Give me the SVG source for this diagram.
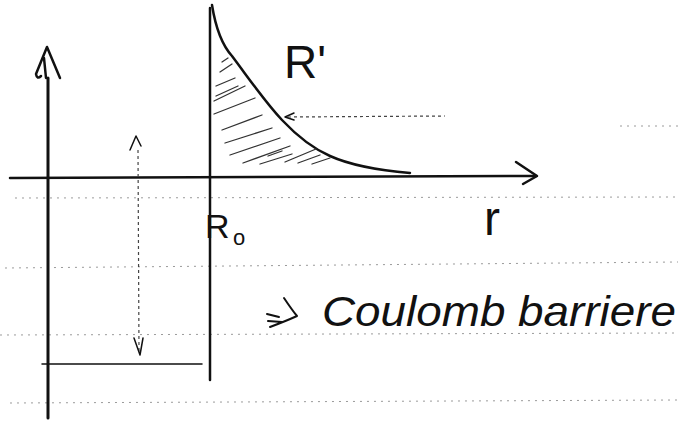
<svg xmlns="http://www.w3.org/2000/svg" width="678" height="424" viewBox="0 0 678 424">
<style>
.ink{fill:none;stroke:#111;stroke-linecap:round;stroke-linejoin:round}
.rule{fill:none;stroke:#9a9a9a;stroke-width:1;stroke-dasharray:2 5}
.dot{fill:none;stroke:#444;stroke-width:1.2;stroke-dasharray:3 3}
.hatch{fill:none;stroke:#333;stroke-width:1.3;stroke-linecap:round}
.hand{font-family:"Liberation Sans",sans-serif;fill:#111}
</style>
<rect width="678" height="424" fill="#fff"/>
<g id="rules">
<line class="rule" x1="620" y1="126" x2="678" y2="126"/>
<line class="rule" x1="15" y1="198" x2="678" y2="197"/>
<line class="rule" x1="5" y1="268" x2="678" y2="262"/>
<line class="rule" x1="0" y1="335" x2="678" y2="333"/>
<line class="rule" x1="10" y1="403" x2="678" y2="400"/>
</g>
<g id="axes">
<line class="ink" x1="48" y1="78" x2="48" y2="418" stroke-width="3"/>
<path class="ink" stroke-width="2.5" d="M46,78 L44,58 M36,74 L47,47 L60,78 M36,74 Q37,80 41,76"/>
<line class="ink" x1="10" y1="178" x2="536" y2="176" stroke-width="2.5"/>
<path class="ink" stroke-width="2.5" d="M516,162 L537,176 L523,184"/>
<line class="ink" x1="210" y1="8" x2="210" y2="380" stroke-width="2.5"/>
<line class="ink" x1="42" y1="364" x2="202" y2="364" stroke-width="1.5"/>
</g>
<g id="barrier">
<path class="ink" stroke-width="2.5" d="M212,5 C216,30 222,45 232,56 C250,80 265,102 282,120 C298,137 312,148 330,156 C350,165 375,170 410,173"/>
<path class="hatch" d="M220,72 L232,64 M216,86 L235,78 M214,101 L245,86 M214,114 L255,98 M222,130 L262,115 M225,143 L272,128 M230,155 L280,138 M243,163 L290,146 M260,164 L292,154 M285,162 L316,149 M298,163 L320,155 M312,164 L330,158"/>
<path class="hatch" d="M222,62 L228,58 M216,96 L238,86 M268,156 L282,151"/>
</g>
<g id="connectors">
<line class="dot" x1="288" y1="117" x2="445" y2="116" stroke-dasharray="6 8"/>
<path class="ink" stroke-width="1.5" d="M294,113 L285,117 L294,120"/>
<line class="dot" x1="138" y1="150" x2="139" y2="353" stroke-dasharray="2 2"/>
<path class="ink" stroke-width="1.5" d="M130,150 L136,136 L141,146"/>
<path class="ink" stroke-width="1.5" d="M134,338 L140,355 L143,338"/>
<path class="ink" stroke-width="2" d="M267,314 L279,317 M268,321 L282,322 M284,298 Q292,310 297,316 Q286,321 270,327"/>
</g>
<g id="labels">
<text class="hand" x="284" y="78" font-size="46">R'</text>
<text class="hand" x="205" y="238" font-size="34">R</text>
<text class="hand" x="233" y="245" font-size="22">o</text>
<text class="hand" x="484" y="235" font-size="48">r</text>
<text class="hand" x="322" y="326" font-size="42" font-style="italic" textLength="354" lengthAdjust="spacingAndGlyphs">Coulomb barriere</text>
</g>
</svg>
